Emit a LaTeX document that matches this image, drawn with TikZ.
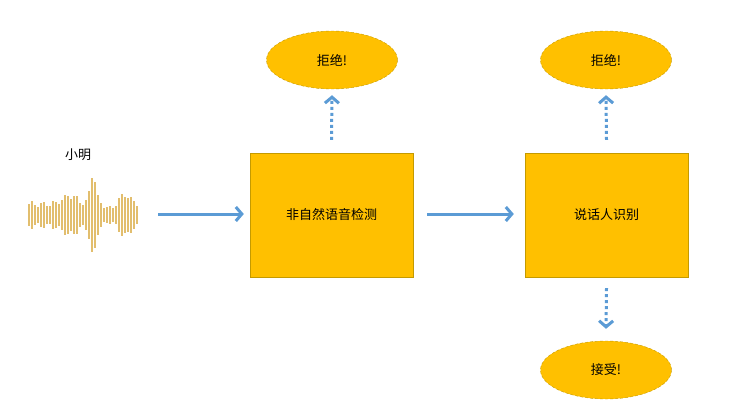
\documentclass[tikz,border=0pt]{standalone}
\usepackage{fontspec}
\setmainfont{Noto Sans CJK SC}
\usetikzlibrary{shapes.geometric,arrows.meta}
\definecolor{boxfill}{HTML}{FFC000}
\definecolor{boxline}{HTML}{C49A00}
\definecolor{arrowblue}{HTML}{5B9BD5}
\definecolor{wave}{HTML}{E2BE6E}
\tikzset{
  stage/.style={draw=boxline, fill=boxfill, minimum width=163pt, minimum height=124pt, inner sep=0pt, font=\fontsize{13}{15}\selectfont},
  verdict/.style={ellipse, draw=boxline, densely dashed, fill=boxfill, minimum width=131pt, minimum height=58pt, inner sep=0pt, font=\fontsize{13}{15}\selectfont},
  flow/.style={arrowblue, line width=3pt, -{Straight Barb[length=6pt,width=14pt]}},
  check/.style={arrowblue, line width=3pt, dash pattern=on 3pt off 3pt, -{Straight Barb[length=6pt,width=14pt]}}
}
\begin{document}
\begin{tikzpicture}[x=1pt,y=-1pt]
\useasboundingbox (0,0) rectangle (739,407);
% speaker and waveform
\node (name) at (78,155) {\fontsize{13}{15}\selectfont 小明};
\foreach \i in {0,...,36} {
  \pgfmathsetmacro{\px}{29+3*\i}
  \pgfmathsetmacro{\amp}{11+8*exp(-((\px-70)/10)^2)+30*exp(-((\px-93)/4)^2)+9*exp(-((\px-125)/7)^2)+3*sin(\i*97)-5*exp(-((\px-110)/5)^2)}
  \fill[wave] (\px-1,215-\amp) rectangle (\px+1,215+\amp);
}
\coordinate (src) at (158,214);
% stages
\node[stage] (detect) at (331.5,215) {非自然语音检测};
\node[stage] (speaker) at (606.5,215) {说话人识别};
\node[verdict] (reject1) at (332,60) {拒绝!};
\node[verdict] (reject2) at (606,60) {拒绝!};
\node[verdict] (accept) at (606,370) {接受!};
% connectors
\draw[flow] (src) -- ([xshift=-6pt]detect.west |- src);
\draw[flow] ([xshift=14pt]detect.east |- src) -- ([xshift=-11pt]speaker.west |- src);
\draw[check] ([yshift=13pt]detect.north) -- ([yshift=-6pt]reject1.south);
\draw[check] ([yshift=13pt]speaker.north) -- ([yshift=-6pt]reject2.south);
\draw[check] ([yshift=-11pt]speaker.south) -- ([yshift=12pt]accept.north);
\end{tikzpicture}
\end{document}
